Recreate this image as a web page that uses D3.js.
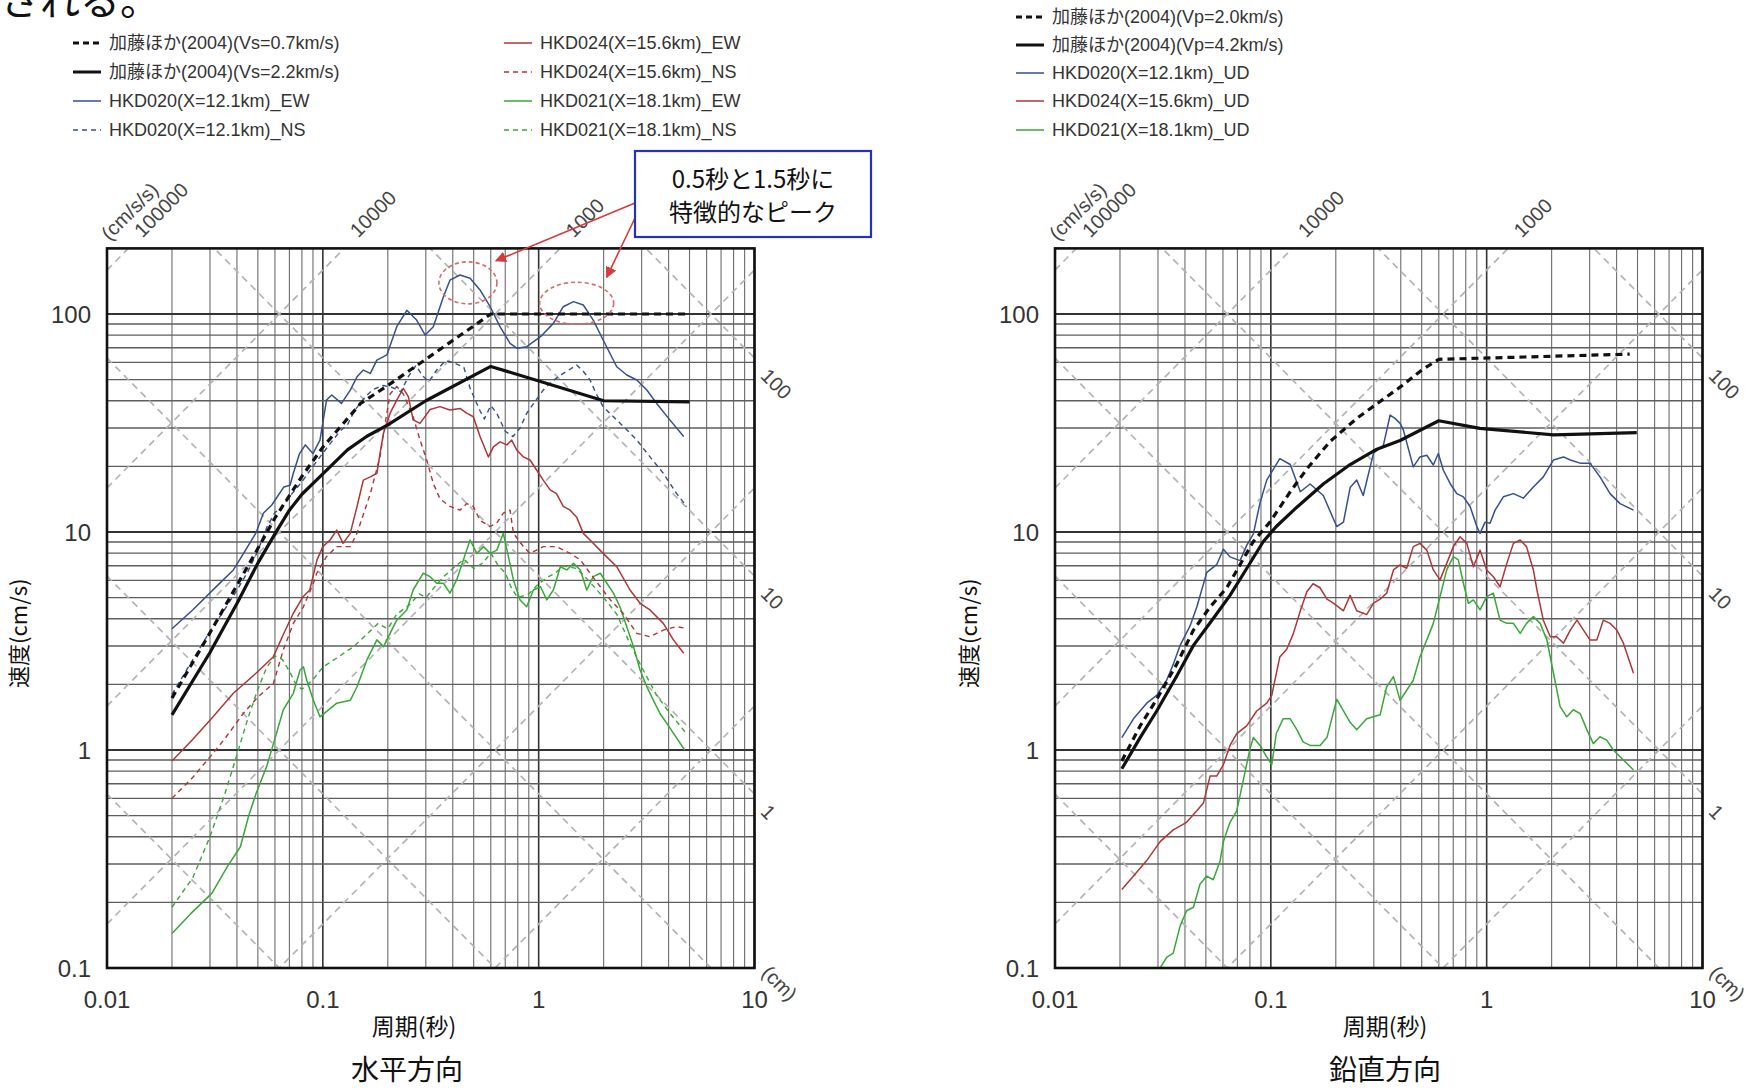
<!DOCTYPE html>
<html>
<head>
<meta charset="utf-8">
<script src="https://cdn.jsdelivr.net/npm/d3@7"></script>
<style>
	body { margin: 0; background: #fff; }
	svg text { font-family: "Liberation Sans", Arial, "Noto Sans CJK JP", sans-serif; }
	.jp { font-family: "Noto Sans CJK JP", sans-serif; }
</style>
</head>
<body>
<svg id="chart" width="1760" height="1089"></svg>
<script>
// axis ticks and tripartite labels
var periodTicks = [0.01, 0.1, 1, 10];
var velTicks = [0.1, 1, 10, 100];
var accelLines = [1, 10, 100, 1000, 10000, 100000];
var dispLines = [0.001, 0.01, 0.1, 1, 10, 100];
var accelLabels = [100000, 10000, 1000];
var dispLabels = [100, 10, 1];

// 水平方向 : [period (s), velocity (cm/s)]
var katoH07 = [[0.02,1.73],[0.03,3.45],[0.04,5.7],[0.05,8.4],[0.06,11.6],[0.08,18],[0.1,24.5],[0.15,39],[0.2,47],[0.3,62],[0.45,82],[0.6,100],[5,100]];
var katoH22 = [[0.02,1.45],[0.03,2.8],[0.04,4.7],[0.05,7.2],[0.06,9.8],[0.07,12.6],[0.08,14.9],[0.1,18.5],[0.13,23.8],[0.16,27.5],[0.2,31],[0.3,40],[0.6,57.5],[2.0,40],[5.0,39.5]];
var hkd020EW = [[0.02,3.6],[0.025,4.4],[0.032,5.6],[0.0385,6.7],[0.043,8.0],[0.049,9.9],[0.053,12.2],[0.058,13.3],[0.066,16.1],[0.0705,16.4],[0.073,18.6],[0.078,22.9],[0.083,25.1],[0.09,22.9],[0.097,26.4],[0.104,40.3],[0.11,42.5],[0.122,38.9],[0.134,44.8],[0.144,51.5],[0.154,55.3],[0.166,53.4],[0.178,61.5],[0.198,64.9],[0.22,87.5],[0.245,104],[0.272,93.8],[0.298,80.1],[0.325,87.5],[0.362,120],[0.388,143],[0.432,151],[0.481,146],[0.535,129],[0.596,108],[0.662,87.5],[0.737,73.4],[0.791,69.7],[0.88,70.8],[1.02,78.7],[1.17,90.6],[1.3,108],[1.45,114],[1.61,110],[1.79,93.8],[1.99,76],[2.3,57.3],[2.56,52.5],[2.85,49.8],[3.17,44.8],[3.52,38.9],[4.06,32.6],[4.7,27.4]];
var hkd020NS = [[0.02,1.8],[0.025,2.6],[0.03,3.5],[0.035,4.4],[0.04,5.4],[0.045,6.6],[0.05,8.2],[0.055,10.5],[0.06,12.3],[0.065,13],[0.07,14.5],[0.08,17],[0.09,20],[0.1,23],[0.11,26],[0.12,29],[0.13,31],[0.14,36],[0.155,41],[0.17,45],[0.19,47],[0.21,46],[0.23,44],[0.25,52],[0.27,58],[0.29,52],[0.31,49],[0.34,56],[0.37,61],[0.4,60],[0.45,57],[0.48,46],[0.51,40],[0.535,36],[0.56,33],[0.6,38],[0.64,35],[0.7,29],[0.76,27.4],[0.82,30],[0.88,35],[0.95,39],[1.05,44.8],[1.15,49],[1.3,53.4],[1.5,58.3],[1.6,55],[1.73,49.8],[1.85,43],[1.99,37.6],[2.3,32.6],[2.6,29],[2.85,26.4],[3.28,22.1],[3.78,18.6],[4.36,15],[4.85,13.1]];
var hkd024EW = [[0.02,0.89],[0.025,1.12],[0.031,1.42],[0.0385,1.82],[0.049,2.25],[0.059,2.68],[0.066,3.43],[0.073,4.24],[0.081,5.05],[0.087,5.42],[0.094,7.45],[0.1,8.57],[0.108,9.19],[0.116,10.2],[0.124,8.87],[0.134,9.86],[0.144,13.1],[0.154,17.3],[0.166,17.9],[0.178,18.6],[0.184,22.9],[0.191,28.4],[0.205,35.1],[0.22,40.3],[0.236,45.6],[0.249,41.8],[0.262,32.7],[0.282,31.5],[0.314,36.5],[0.349,37.6],[0.388,36.3],[0.432,36.9],[0.464,35.1],[0.498,33.8],[0.535,27.4],[0.585,22.1],[0.617,24.6],[0.662,25.9],[0.712,25.1],[0.75,26.4],[0.791,23.8],[0.85,22.1],[0.912,21.4],[0.98,19.2],[1.05,17.3],[1.13,15.6],[1.21,15.0],[1.3,13.1],[1.4,12.6],[1.5,11.7],[1.61,9.86],[1.73,9.19],[1.99,7.98],[2.3,6.93],[2.65,5.42],[2.95,4.71],[3.28,4.39],[3.78,3.81],[4.21,3.2],[4.7,2.78]];
var hkd024NS = [[0.02,0.6],[0.025,0.75],[0.03,0.93],[0.035,1.12],[0.0428,1.47],[0.05,1.75],[0.059,2.02],[0.0656,2.88],[0.073,3.81],[0.0813,4.54],[0.0904,5.82],[0.0937,6.47],[0.104,7.71],[0.116,8.57],[0.134,8.57],[0.144,9.86],[0.166,15],[0.184,22.1],[0.191,28.4],[0.205,43],[0.22,46.5],[0.236,43],[0.262,33.8],[0.282,26.4],[0.303,21.4],[0.325,16.7],[0.349,14.2],[0.388,13.1],[0.432,12.6],[0.464,13.5],[0.498,13.1],[0.535,11.3],[0.596,10.6],[0.64,11.0],[0.686,12.2],[0.737,12.6],[0.764,9.86],[0.85,8.57],[0.912,7.98],[1.05,8.57],[1.21,8.57],[1.4,7.98],[1.56,7.45],[1.73,6.47],[1.93,5.61],[2.15,4.88],[2.46,4.24],[2.85,3.43],[3.28,3.31],[3.78,3.55],[4.36,3.68],[4.85,3.61]];
var hkd021EW = [[0.02,0.144],[0.0245,0.178],[0.0306,0.22],[0.0361,0.292],[0.0415,0.36],[0.0452,0.494],[0.0491,0.633],[0.0549,0.839],[0.0597,1.11],[0.0656,1.53],[0.073,1.82],[0.0784,2.33],[0.0813,2.41],[0.0842,2.09],[0.0904,1.69],[0.097,1.42],[0.116,1.64],[0.134,1.69],[0.144,1.95],[0.16,2.59],[0.178,3.2],[0.191,2.98],[0.205,3.43],[0.22,3.94],[0.245,4.39],[0.262,5.42],[0.292,6.47],[0.314,6.24],[0.337,5.82],[0.362,5.82],[0.388,5.24],[0.417,6.03],[0.448,7.45],[0.481,9.19],[0.517,7.98],[0.555,8.57],[0.596,7.98],[0.64,8.26],[0.686,9.86],[0.724,7.71],[0.764,6.03],[0.82,4.88],[0.88,4.54],[0.945,5.42],[1.02,5.61],[1.09,4.88],[1.17,5.42],[1.26,6.93],[1.35,6.7],[1.45,7.18],[1.56,6.7],[1.67,5.42],[1.79,6.24],[1.93,6.47],[2.07,5.82],[2.22,5.24],[2.38,4.54],[2.56,3.68],[2.75,2.98],[2.95,2.33],[3.17,1.95],[3.4,1.69],[3.65,1.47],[4.06,1.26],[4.75,1.0]];
var hkd021NS = [[0.02,0.19],[0.025,0.26],[0.03,0.4],[0.035,0.62],[0.04,0.95],[0.045,1.4],[0.05,1.9],[0.055,2.4],[0.06,2.7],[0.065,2.6],[0.07,2.3],[0.075,2.0],[0.08,1.9],[0.09,2.1],[0.1,2.4],[0.12,2.7],[0.14,3.0],[0.16,3.4],[0.18,3.8],[0.2,3.6],[0.22,4.2],[0.25,4.6],[0.28,5.2],[0.3,5.0],[0.33,5.6],[0.36,6.2],[0.4,6.8],[0.45,7.5],[0.5,6.8],[0.55,7.2],[0.6,8.0],[0.65,7.0],[0.7,6.5],[0.75,5.5],[0.8,5.0],[0.9,5.2],[1.0,5.8],[1.1,6.2],[1.2,6.5],[1.3,7.0],[1.5,6.8],[1.7,6.0],[2.0,5.0],[2.3,4.2],[2.6,3.2],[3.0,2.4],[3.5,1.8],[4.0,1.5],[4.8,1.2]];

// 鉛直方向
var katoV20 = [[0.0204,0.89],[0.0248,1.29],[0.0296,1.71],[0.0366,2.47],[0.0438,3.55],[0.0523,4.53],[0.0625,5.55],[0.072,7.08],[0.083,9.05],[0.099,11.1],[0.123,15.3],[0.147,19.5],[0.188,26],[0.25,33.2],[0.332,40.7],[0.397,46.2],[0.5,55.3],[0.6,62],[1.5,63.5],[4.6,65.5]];
var katoV42 = [[0.0204,0.82],[0.0248,1.14],[0.0296,1.51],[0.0366,2.18],[0.0438,3.02],[0.0541,4.01],[0.0647,5.12],[0.0773,6.8],[0.0923,9.05],[0.106,10.6],[0.132,13.0],[0.175,16.6],[0.233,20.4],[0.31,24],[0.397,26.3],[0.6,32.4],[0.93,29.9],[2.04,27.9],[4.96,28.6]];
var hkd020UD = [[0.0204,1.14],[0.0231,1.39],[0.0266,1.64],[0.0296,1.78],[0.0329,2.09],[0.0353,2.47],[0.038,3.02],[0.0422,3.7],[0.0454,4.53],[0.0505,6.53],[0.0561,7.08],[0.0603,8.34],[0.0647,7.69],[0.072,7.39],[0.0773,8.68],[0.083,9.81],[0.0891,13.6],[0.0957,17.3],[0.103,19.5],[0.11,21.7],[0.123,20.4],[0.137,15.3],[0.152,16.6],[0.175,14.7],[0.202,10.6],[0.217,11.1],[0.233,16.0],[0.25,17.3],[0.268,14.7],[0.299,23.0],[0.332,24.9],[0.357,34.4],[0.376,33.2],[0.397,31.5],[0.411,29.4],[0.457,19.9],[0.491,22.1],[0.528,22.5],[0.566,20.3],[0.597,22.9],[0.63,19.2],[0.677,16.7],[0.727,15.0],[0.78,14.5],[0.838,13.1],[0.9,10.6],[0.932,9.86],[0.983,11.1],[1.037,10.96],[1.094,12.6],[1.195,14.5],[1.33,15.0],[1.48,14.3],[1.646,16.1],[1.83,17.9],[2.04,21.4],[2.27,22.1],[2.44,21.4],[2.71,20.7],[3.01,20.7],[3.35,17.9],[3.73,15.0],[4.15,13.5],[4.79,12.6]];
var hkd024UD = [[0.0204,0.229],[0.0231,0.264],[0.0266,0.311],[0.0307,0.38],[0.0353,0.43],[0.0407,0.466],[0.0454,0.526],[0.0487,0.571],[0.0523,0.759],[0.0561,0.759],[0.0603,0.857],[0.0647,1.05],[0.0695,1.19],[0.0773,1.29],[0.086,1.51],[0.0957,1.64],[0.101,1.78],[0.11,2.67],[0.1185,2.9],[0.127,3.41],[0.137,4.35],[0.147,5.33],[0.157,5.79],[0.169,5.55],[0.182,4.92],[0.195,4.72],[0.217,4.35],[0.233,5.12],[0.25,4.35],[0.278,4.18],[0.299,4.72],[0.321,4.92],[0.344,5.24],[0.37,6.7],[0.397,7.06],[0.426,6.82],[0.457,8.57],[0.491,8.87],[0.528,8.26],[0.566,6.7],[0.608,6.03],[0.653,7.18],[0.701,8.57],[0.753,9.51],[0.809,8.87],[0.868,6.93],[0.932,8.26],[1.0,6.7],[1.074,6.24],[1.153,5.61],[1.24,7.18],[1.33,8.87],[1.43,9.19],[1.53,8.57],[1.646,6.7],[1.71,5.42],[1.83,3.94],[1.97,3.31],[2.11,3.31],[2.27,3.09],[2.44,3.55],[2.62,3.94],[2.81,3.55],[3.01,3.2],[3.24,3.2],[3.47,3.94],[3.73,3.81],[4.01,3.55],[4.3,3.09],[4.79,2.25]];
var hkd021UD = [[0.0307,0.1],[0.0329,0.112],[0.0353,0.117],[0.038,0.156],[0.0407,0.183],[0.0438,0.19],[0.047,0.243],[0.0505,0.264],[0.0541,0.254],[0.0582,0.31],[0.0603,0.38],[0.0647,0.466],[0.0695,0.526],[0.0746,0.729],[0.08,1.01],[0.083,1.14],[0.0891,1.05],[0.0957,0.93],[0.101,0.857],[0.106,1.19],[0.114,1.39],[0.123,1.39],[0.132,1.24],[0.141,1.09],[0.152,1.05],[0.169,1.05],[0.182,1.14],[0.202,1.71],[0.217,1.51],[0.233,1.34],[0.25,1.24],[0.278,1.39],[0.321,1.45],[0.344,1.95],[0.37,2.17],[0.397,1.69],[0.426,1.88],[0.457,2.09],[0.491,2.68],[0.528,3.2],[0.566,3.81],[0.608,5.05],[0.653,6.7],[0.701,7.71],[0.739,7.45],[0.78,5.82],[0.823,4.71],[0.868,4.88],[0.932,4.39],[1.0,5.05],[1.074,5.24],[1.153,3.94],[1.24,3.81],[1.33,3.81],[1.43,3.43],[1.53,3.81],[1.646,4.09],[1.77,3.81],[1.9,3.2],[2.04,2.25],[2.19,1.58],[2.35,1.42],[2.52,1.53],[2.71,1.47],[2.91,1.24],[3.12,1.07],[3.35,1.15],[3.6,1.11],[3.86,1.0],[4.3,0.9],[4.79,0.81]];

// annotation: characteristic peaks [period, velocity, rx, ry]
var peakMarks = [[0.47, 139, 29, 21], [1.5, 112, 37, 21]];

var BLUE = '#34508e', RED = '#b03636', GREEN = '#38a838';

var svg = d3.select('#chart');
var W = 647.5, H = 719.6, TOP = 248.4;

var x = d3.scaleLog().domain([0.01, 10]).range([0, W]);
var y = d3.scaleLog().domain([0.1, 200]).range([H, 0]);

var line = d3.line()
	.x(function (d) { return x(d[0]); })
	.y(function (d) { return y(d[1]); });

function isDecade(v) {
	var l = Math.log10(v);
	return Math.abs(l - Math.round(l)) < 1e-6;
}

function drawPanel(p) {
	var g = svg.append('g').attr('transform', 'translate(' + p.left + ',' + TOP + ')');
	var clipId = 'clip-' + p.id;

	g.append('clipPath').attr('id', clipId)
		.append('rect').attr('width', W).attr('height', H);

	// grid lines
	var grid = g.append('g');
	grid.selectAll('line.gx').data(x.ticks()).enter().append('line')
		.attr('x1', function (d) { return x(d); })
		.attr('x2', function (d) { return x(d); })
		.attr('y1', 0).attr('y2', H)
		.attr('stroke', function (d) { return isDecade(d) ? '#333' : '#6c6c6c'; })
		.attr('stroke-width', function (d) { return isDecade(d) ? 1.6 : 1.1; });
	grid.selectAll('line.gy').data(y.ticks()).enter().append('line')
		.attr('y1', function (d) { return y(d); })
		.attr('y2', function (d) { return y(d); })
		.attr('x1', 0).attr('x2', W)
		.attr('stroke', function (d) { return isDecade(d) ? '#333' : '#5e5e5e'; })
		.attr('stroke-width', function (d) { return isDecade(d) ? 1.8 : 1.4; });

	// tripartite diagonals
	var diag = g.append('g').attr('clip-path', 'url(#' + clipId + ')')
		.attr('fill', 'none').attr('stroke', '#b4b4b4')
		.attr('stroke-width', 1.7).attr('stroke-dasharray', '7,5');
	accelLines.forEach(function (a) {
		diag.append('path').attr('d', line([[0.01, a * 0.01 / (2 * Math.PI)], [10, a * 10 / (2 * Math.PI)]]));
	});
	dispLines.forEach(function (dd) {
		diag.append('path').attr('d', line([[0.01, 2 * Math.PI * dd / 0.01], [10, 2 * Math.PI * dd / 10]]));
	});

	// data series
	var sg = g.append('g').attr('clip-path', 'url(#' + clipId + ')').attr('fill', 'none');
	p.series.forEach(function (s) {
		sg.append('path').datum(s.data)
			.attr('d', line)
			.attr('stroke', s.color)
			.attr('stroke-width', s.width)
			.attr('stroke-dasharray', s.dash || null)
			.attr('stroke-linejoin', 'round');
	});

	// frame
	g.append('rect').attr('width', W).attr('height', H)
		.attr('fill', 'none').attr('stroke', '#111').attr('stroke-width', 2.6);

	// tick labels
	g.selectAll('text.xt').data(periodTicks).enter().append('text')
		.attr('x', function (d) { return x(d); }).attr('y', H + 40)
		.attr('text-anchor', 'middle').attr('font-size', 24).attr('fill', '#333')
		.text(function (d) { return d; });
	g.selectAll('text.yt').data(velTicks).enter().append('text')
		.attr('x', -16).attr('y', function (d) { return y(d); }).attr('dy', '0.36em')
		.attr('text-anchor', 'end').attr('font-size', 24).attr('fill', '#333')
		.text(function (d) { return d; });

	// acceleration labels on top edge
	accelLabels.forEach(function (a) {
		var t = 2 * Math.PI * 200 / a;
		g.append('text').attr('transform', 'translate(' + (x(t) + 14) + ',-10) rotate(-45)')
			.attr('font-size', 20).attr('fill', '#444').text(a);
	});
	var t0 = 2 * Math.PI * 200 / accelLabels[0];
	g.append('text').attr('transform', 'translate(' + (x(t0) - 19) + ',-7) rotate(-45)')
		.attr('font-size', 20).attr('fill', '#444').text('(cm/s/s)');

	// displacement labels on right edge
	dispLabels.forEach(function (dd) {
		var v = 2 * Math.PI * dd / 10;
		g.append('text').attr('transform', 'translate(' + (W + 5) + ',' + (y(v) + 19) + ') rotate(45)')
			.attr('font-size', 20).attr('fill', '#444').text(dd);
	});
	g.append('text').attr('transform', 'translate(' + (W + 6) + ',' + (H + 6) + ') rotate(45)')
		.attr('font-size', 20).attr('fill', '#444').text('(cm)');

	// axis titles
	g.append('text').attr('class', 'jp')
		.attr('transform', 'translate(' + p.yTitleX + ',' + (H / 2 + 25) + ') rotate(-90)')
		.attr('text-anchor', 'middle').attr('font-size', 22).attr('fill', '#111')
		.text('速度(cm/s)');
	g.append('text').attr('class', 'jp')
		.attr('x', p.xTitleX).attr('y', H + 67)
		.attr('text-anchor', 'middle').attr('font-size', 23).attr('fill', '#111')
		.text('周期(秒)');
	g.append('text').attr('class', 'jp')
		.attr('x', p.titleX).attr('y', H + 112)
		.attr('text-anchor', 'middle').attr('font-size', 28).attr('fill', '#111')
		.text(p.title);

	return g;
}

var left = drawPanel({
	id: 'h', left: 107, title: '水平方向', titleX: 300, xTitleX: 307, yTitleX: -80,
	series: [
		{ data: hkd021NS, color: GREEN, width: 1.4, dash: '5,4' },
		{ data: hkd021EW, color: GREEN, width: 1.5 },
		{ data: hkd024NS, color: RED, width: 1.4, dash: '5,4' },
		{ data: hkd024EW, color: RED, width: 1.5 },
		{ data: hkd020NS, color: BLUE, width: 1.4, dash: '5,4' },
		{ data: hkd020EW, color: BLUE, width: 1.5 },
		{ data: katoH07, color: '#111', width: 3.2, dash: '7,5' },
		{ data: katoH22, color: '#111', width: 3.2 }
	]
});

drawPanel({
	id: 'v', left: 1055, title: '鉛直方向', titleX: 330, xTitleX: 330, yTitleX: -78,
	series: [
		{ data: hkd021UD, color: GREEN, width: 1.5 },
		{ data: hkd024UD, color: RED, width: 1.5 },
		{ data: hkd020UD, color: BLUE, width: 1.5 },
		{ data: katoV20, color: '#111', width: 3.2, dash: '7,5' },
		{ data: katoV42, color: '#111', width: 3.2 }
	]
});

// peak ellipses
left.selectAll('ellipse.pk').data(peakMarks).enter().append('ellipse')
	.attr('cx', function (d) { return x(d[0]); })
	.attr('cy', function (d) { return y(d[1]); })
	.attr('rx', function (d) { return d[2]; }).attr('ry', function (d) { return d[3]; })
	.attr('fill', 'none').attr('stroke', '#d46a6a')
	.attr('stroke-width', 1.6).attr('stroke-dasharray', '4,3');

// callout box and arrows
var defs = svg.append('defs');
defs.append('marker').attr('id', 'arrow').attr('viewBox', '0 0 10 10')
	.attr('refX', 9).attr('refY', 5).attr('markerWidth', 7).attr('markerHeight', 7)
	.attr('orient', 'auto')
	.append('path').attr('d', 'M0,0 L10,5 L0,10 z').attr('fill', '#d83a3a');

var boxX = 635, boxY = 151, boxW = 236, boxH = 86;
var tips = peakMarks.map(function (d, i) {
	return [107 + x(d[0]) + (i === 0 ? 28 : 30), TOP + y(d[1]) - (i === 0 ? 22 : 26)];
});
svg.selectAll('line.arr').data(tips).enter().append('line')
	.attr('x1', boxX).attr('y1', function (d, i) { return i === 0 ? 203 : 218; })
	.attr('x2', function (d) { return d[0]; }).attr('y2', function (d) { return d[1]; })
	.attr('stroke', '#d83a3a').attr('stroke-width', 1.6)
	.attr('marker-end', 'url(#arrow)');

svg.append('rect').attr('x', boxX).attr('y', boxY).attr('width', boxW).attr('height', boxH)
	.attr('fill', '#fff').attr('stroke', '#2233bb').attr('stroke-width', 2.2);
svg.append('text').attr('class', 'jp').attr('x', boxX + boxW / 2).attr('y', boxY + 37)
	.attr('text-anchor', 'middle').attr('font-size', 24).attr('fill', '#111').text('0.5秒と1.5秒に');
svg.append('text').attr('class', 'jp').attr('x', boxX + boxW / 2).attr('y', boxY + 70)
	.attr('text-anchor', 'middle').attr('font-size', 24).attr('fill', '#111').text('特徴的なピーク');

// legends
var legendH = [
	{ label: '加藤ほか(2004)(Vs=0.7km/s)', color: '#111', width: 3, dash: '6,4', col: 0, row: 0 },
	{ label: '加藤ほか(2004)(Vs=2.2km/s)', color: '#111', width: 3, col: 0, row: 1 },
	{ label: 'HKD020(X=12.1km)_EW', color: BLUE, width: 1.5, col: 0, row: 2 },
	{ label: 'HKD020(X=12.1km)_NS', color: BLUE, width: 1.3, dash: '5,4', col: 0, row: 3 },
	{ label: 'HKD024(X=15.6km)_EW', color: RED, width: 1.5, col: 1, row: 0 },
	{ label: 'HKD024(X=15.6km)_NS', color: RED, width: 1.3, dash: '5,4', col: 1, row: 1 },
	{ label: 'HKD021(X=18.1km)_EW', color: GREEN, width: 1.5, col: 1, row: 2 },
	{ label: 'HKD021(X=18.1km)_NS', color: GREEN, width: 1.3, dash: '5,4', col: 1, row: 3 }
];
var legendV = [
	{ label: '加藤ほか(2004)(Vp=2.0km/s)', color: '#111', width: 3, dash: '6,4', col: 0, row: 0 },
	{ label: '加藤ほか(2004)(Vp=4.2km/s)', color: '#111', width: 3, col: 0, row: 1 },
	{ label: 'HKD020(X=12.1km)_UD', color: BLUE, width: 1.5, col: 0, row: 2 },
	{ label: 'HKD024(X=15.6km)_UD', color: RED, width: 1.5, col: 0, row: 3 },
	{ label: 'HKD021(X=18.1km)_UD', color: GREEN, width: 1.5, col: 0, row: 4 }
];

function drawLegend(items, cols, rows) {
	var lg = svg.append('g');
	items.forEach(function (it) {
		var lx = cols[it.col], ly = rows[it.row];
		lg.append('line').attr('x1', lx).attr('x2', lx + 28).attr('y1', ly).attr('y2', ly)
			.attr('stroke', it.color).attr('stroke-width', it.width)
			.attr('stroke-dasharray', it.dash || null);
		lg.append('text').attr('x', lx + 36).attr('y', ly).attr('dy', '0.36em')
			.attr('font-size', 18).attr('fill', '#333').text(it.label);
	});
}
drawLegend(legendH, [73, 504], [43, 72, 101, 130]);
drawLegend(legendV, [1016], [17, 45, 73, 101, 130]);

// cut-off sentence at top
svg.append('text').attr('class', 'jp').attr('x', 0).attr('y', 15)
	.attr('font-size', 40).attr('fill', '#111').text('される。');
</script>
</body>
</html>
